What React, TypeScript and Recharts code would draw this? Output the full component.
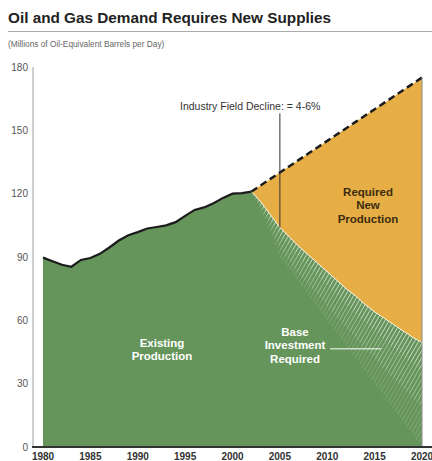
import { ComposedChart, Area, Line, XAxis, YAxis, ReferenceLine } from 'recharts'

// history, 1980-2002 (million boe/d)
const histYears = [1980, 1981, 1982, 1983, 1984, 1985, 1986, 1987, 1988, 1989, 1990, 1991, 1992, 1993, 1994, 1995, 1996, 1997, 1998, 1999, 2000, 2001, 2002]
const histSupply = [89.7, 88, 86.3, 85.4, 88.6, 89.5, 91.5, 94.5, 97.8, 100.3, 101.8, 103.5, 104.2, 105, 106.5, 109.5, 112.3, 113.5, 115.5, 118, 120, 120.3, 121]

// outlook, 2002-2020
const projYears = [2002, 2003, 2004, 2005, 2006, 2007, 2008, 2009, 2010, 2011, 2012, 2013, 2014, 2015, 2016, 2017, 2018, 2019, 2020]
const demand = [121, 124, 127, 130, 133, 136, 139, 142, 145, 148, 151, 154, 157, 160, 163, 166, 169, 172, 175]
const declining = [121, 116, 110, 104, 99.5, 95, 91, 87, 83, 79, 75, 71.5, 67.5, 64, 61, 58, 55, 52, 49.5]
// lower edges of the "base investment" hatch, from strong to faint
const hatchFloorA = [121, 115, 107.5, 100, 95, 90, 85.5, 81, 76.5, 72, 67.5, 63, 59, 55, 51, 47, 43, 39.5, 36]
const hatchFloorB = [121, 113.5, 104.5, 94, 88, 82, 77, 72, 67, 61.5, 56.5, 51.5, 46.5, 42, 37, 32.5, 28, 23.5, 19]
const hatchFloorC = [121, 112, 102, 90, 84, 78, 72, 66, 60, 54, 48, 42, 36, 30, 24, 18, 12, 6, 0]

const xTicks = [1980, 1985, 1990, 1995, 2000, 2005, 2010, 2015, 2020]
const yTicks = [0, 30, 60, 90, 120, 150, 180]

type Row = { year: number; [k: string]: number | number[] | undefined }

const rows: Row[] = []
const byYear = new Map<number, Row>()
const rowFor = (year: number) => {
  let r = byYear.get(year)
  if (!r) {
    r = { year }
    byYear.set(year, r)
    rows.push(r)
  }
  return r
}
histYears.forEach((y, i) => {
  const r = rowFor(y)
  r.hist = histSupply[i]
  r.supply = histSupply[i]
})
projYears.forEach((y, i) => {
  const r = rowFor(y)
  r.demand = demand[i]
  r.base = declining[i]
  r.supply = declining[i]
  r.gap = [declining[i], demand[i]]
  r.hatchA = [hatchFloorA[i], declining[i]]
  r.hatchB = [hatchFloorB[i], hatchFloorA[i]]
  r.hatchC = [hatchFloorC[i], hatchFloorB[i]]
})
rows.sort((a, b) => a.year - b.year)

const FONT = '"Liberation Sans", Arial, Helvetica, sans-serif'
const GREEN = '#65955a'
const GOLD = '#e6ae45'
const INK = '#1c1c1c'

const abs = (top: number, left: number, extra: React.CSSProperties = {}): React.CSSProperties => ({
  position: 'absolute',
  top,
  left,
  fontFamily: FONT,
  whiteSpace: 'nowrap',
  ...extra,
})

const hatch = (id: string, opacity: number) => (
  <pattern id={id} width="3.6" height="4" patternUnits="userSpaceOnUse" patternTransform="rotate(30)">
    <line x1="0" y1="0" x2="0" y2="4" stroke="#fff" strokeWidth="1.4" strokeOpacity={opacity} />
  </pattern>
)

export default function App() {
  return (
    <div style={{ position: 'absolute', top: 0, left: 0, width: 432, height: 461, overflow: 'hidden', background: '#fff' }}>
      <div style={abs(8, 8, { fontSize: 15.3, fontWeight: 700, color: '#222', lineHeight: '20px' })}>
        Oil and Gas Demand Requires New Supplies
      </div>
      <div style={{ position: 'absolute', top: 31, left: 8, width: 424, height: 1, background: '#aaa' }} />
      <div style={abs(39, 8, { fontSize: 8.3, color: '#666', lineHeight: '10px' })}>
        (Millions of Oil-Equivalent Barrels per Day)
      </div>

      <ComposedChart
        width={432}
        height={461}
        data={rows}
        margin={{ top: 67, right: 10, bottom: 0, left: 0 }}
        style={{ position: 'absolute', top: 0, left: 0 }}
      >
        <defs>
          {hatch('hatchA', 0.8)}
          {hatch('hatchB', 0.5)}
          {hatch('hatchC', 0.22)}
        </defs>
        <XAxis
          dataKey="year"
          type="number"
          domain={[1980, 2020]}
          ticks={xTicks}
          interval={0}
          padding={{ left: 10, right: 0 }}
          height={14}
          tickSize={0}
          tickMargin={6}
          axisLine={{ stroke: '#333', strokeWidth: 2 }}
          tick={{ fill: '#333', fontSize: 10, fontWeight: 700, fontFamily: FONT }}
        />
        <YAxis
          type="number"
          domain={[0, 180]}
          ticks={yTicks}
          width={33}
          tickSize={0}
          tickMargin={5}
          axisLine={{ stroke: '#cfcfcf', strokeWidth: 2 }}
          tick={{ fill: '#555', fontSize: 10, fontFamily: FONT }}
        />
        <Area dataKey="supply" type="linear" fill={GREEN} fillOpacity={1} stroke="none" isAnimationActive={false} />
        <Area dataKey="gap" type="linear" fill={GOLD} fillOpacity={1} stroke="none" isAnimationActive={false} />
        <Area dataKey="hatchC" type="linear" fill="url(#hatchC)" fillOpacity={1} stroke="none" isAnimationActive={false} />
        <Area dataKey="hatchB" type="linear" fill="url(#hatchB)" fillOpacity={1} stroke="none" isAnimationActive={false} />
        <Area dataKey="hatchA" type="linear" fill="url(#hatchA)" fillOpacity={1} stroke="none" isAnimationActive={false} />
        <Line dataKey="base" type="linear" stroke="#fff" strokeWidth={1} strokeOpacity={0.8} dot={false} isAnimationActive={false} />
        <Line dataKey="hist" type="linear" stroke={INK} strokeWidth={2.2} dot={false} isAnimationActive={false} />
        <Line dataKey="demand" type="linear" stroke={INK} strokeWidth={2.5} strokeDasharray="7 4" dot={false} isAnimationActive={false} />
        <ReferenceLine segment={[{ x: 2020, y: 0 }, { x: 2020, y: 175 }]} stroke="#8a8a8a" strokeWidth={1} />
        <ReferenceLine segment={[{ x: 2005, y: 158 }, { x: 2005, y: 104 }]} stroke="#333" strokeWidth={1} />
        <ReferenceLine segment={[{ x: 2010.3, y: 46.5 }, { x: 2015.7, y: 46.5 }]} stroke="#fff" strokeWidth={1} />
      </ComposedChart>

      <div style={{ position: 'absolute', top: 446, left: 32, width: 400, height: 2, background: '#333' }} />

      <div style={abs(99, 180, { fontSize: 10.5, color: '#333', lineHeight: '14px' })}>
        Industry Field Decline: = 4-6%
      </div>
      <div style={abs(186, 318, { width: 100, textAlign: 'center', fontSize: 11.5, fontWeight: 700, color: '#3b2c10', lineHeight: '13.4px' })}>
        Required<br />New<br />Production
      </div>
      <div style={abs(337, 112, { width: 100, textAlign: 'center', fontSize: 11.5, fontWeight: 700, color: '#fff', lineHeight: '13.4px' })}>
        Existing<br />Production
      </div>
      <div style={abs(326, 245, { width: 100, textAlign: 'center', fontSize: 11.5, fontWeight: 700, color: '#fff', lineHeight: '13.4px' })}>
        Base<br />Investment<br />Required
      </div>
    </div>
  )
}
